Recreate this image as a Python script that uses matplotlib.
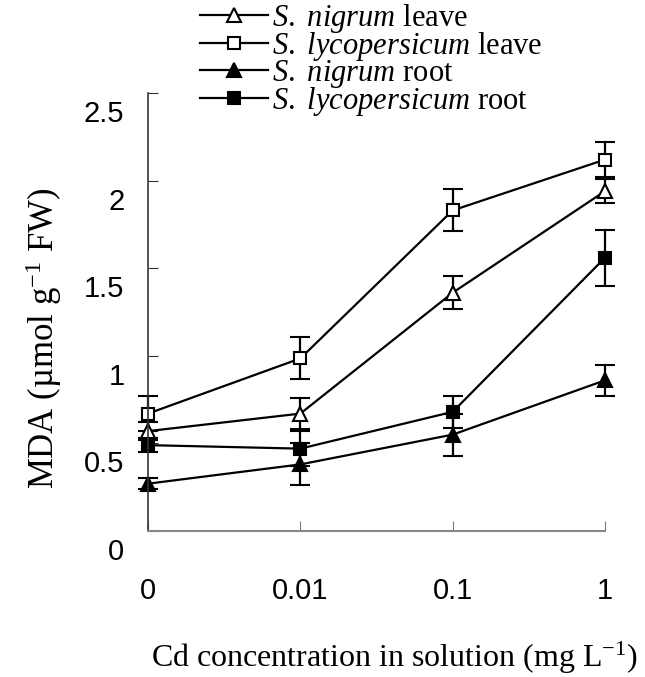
import matplotlib
matplotlib.use("Agg")
from matplotlib import pyplot as plt
from matplotlib import transforms

plt.rcParams["mathtext.fontset"] = "custom"
plt.rcParams["mathtext.rm"] = "Liberation Serif"
plt.rcParams["mathtext.it"] = "Liberation Serif:italic"

concentrations = ["0", "0.01", "0.1", "1"]

nigrum_leave = [0.57, 0.67, 1.36, 1.94]
nigrum_leave_err = [0.05, 0.09, 0.095, 0.07]
lyco_leave = [0.67, 0.985, 1.83, 2.12]
lyco_leave_err = [0.1, 0.12, 0.12, 0.1]
nigrum_root = [0.27, 0.38, 0.55, 0.86]
nigrum_root_err = [0.03, 0.12, 0.12, 0.09]
lyco_root = [0.49, 0.47, 0.68, 1.56]
lyco_root_err = [0.04, 0.1, 0.09, 0.16]

series = [
    (nigrum_leave, nigrum_leave_err, "^", "white", r"$\mathit{S.}$ $\mathit{nigrum}$ leave"),
    (lyco_leave, lyco_leave_err, "s", "white", r"$\mathit{S.}$ $\mathit{lycopersicum}$ leave"),
    (nigrum_root, nigrum_root_err, "^", "black", r"$\mathit{S.}$ $\mathit{nigrum}$ root"),
    (lyco_root, lyco_root_err, "s", "black", r"$\mathit{S.}$ $\mathit{lycopersicum}$ root"),
]


def main():
    fig = plt.figure(figsize=(6.45, 6.77), dpi=100)
    ax = fig.add_axes([0.2295, 0.2157, 0.7085, 0.6469])

    x = list(range(len(concentrations)))
    handles = []
    for vals, errs, marker, face, label in series:
        h = ax.errorbar(x, vals, yerr=errs, color="black", lw=1.6, marker=marker,
                        markersize=10 if marker == "^" else 9, markerfacecolor=face,
                        markeredgecolor="black", markeredgewidth=1.5,
                        capsize=7, capthick=1.6, elinewidth=1.6, label=label)
        h[0].set_clip_on(False)
        for art in h[1]:
            art.set_clip_on(False)
        for c in h[2]:
            c.set_clip_on(False)
        handles.append(h[0])

    ax.set_xlim(0, 3)
    ax.set_ylim(0, 2.5)
    ax.set_xticks(x)
    ax.set_xticklabels(concentrations, family="Liberation Sans", fontsize=21)
    ax.set_yticks([0, 0.5, 1, 1.5, 2, 2.5])
    ax.set_yticklabels(["0", "0.5", "1", "1.5", "2", "2.5"], family="Liberation Sans", fontsize=21)
    ax.tick_params(axis="x", direction="in", length=7, pad=33, colors="#777777", labelcolor="black")
    ax.tick_params(axis="y", direction="in", length=7, pad=17, colors="#333333", labelcolor="black")

    # the y labels sit a bit below their ticks in the original
    shift = transforms.ScaledTranslation(0, -18 / 100, fig.dpi_scale_trans)
    for lab in ax.get_yticklabels():
        lab.set_transform(lab.get_transform() + shift)

    for s in ["top", "right"]:
        ax.spines[s].set_visible(False)
    ax.spines["bottom"].set_color("#888888")
    ax.spines["left"].set_color("#333333")
    ax.spines["bottom"].set_linewidth(1.5)
    ax.spines["left"].set_linewidth(1.2)

    fig.text(0.068, 0.5, r"MDA (µmol g$^{-1}$ FW)", family="Liberation Serif", fontsize=25,
             rotation=90, ha="center", va="center")
    fig.text(0.612, 0.002, r"Cd concentration in solution (mg L$^{-1}$)",
             family="Liberation Serif", fontsize=23, ha="center", va="bottom")

    fig.legend(handles=handles, labels=[s[4] for s in series], loc="upper left",
               bbox_to_anchor=(0.268, 1.038), frameon=False,
               handlelength=2.2, handletextpad=0.15, labelspacing=-0.16,
               prop={"family": "Liberation Serif", "size": 22})

    fig.savefig("out.png", dpi=100)


if __name__ == "__main__":
    main()
